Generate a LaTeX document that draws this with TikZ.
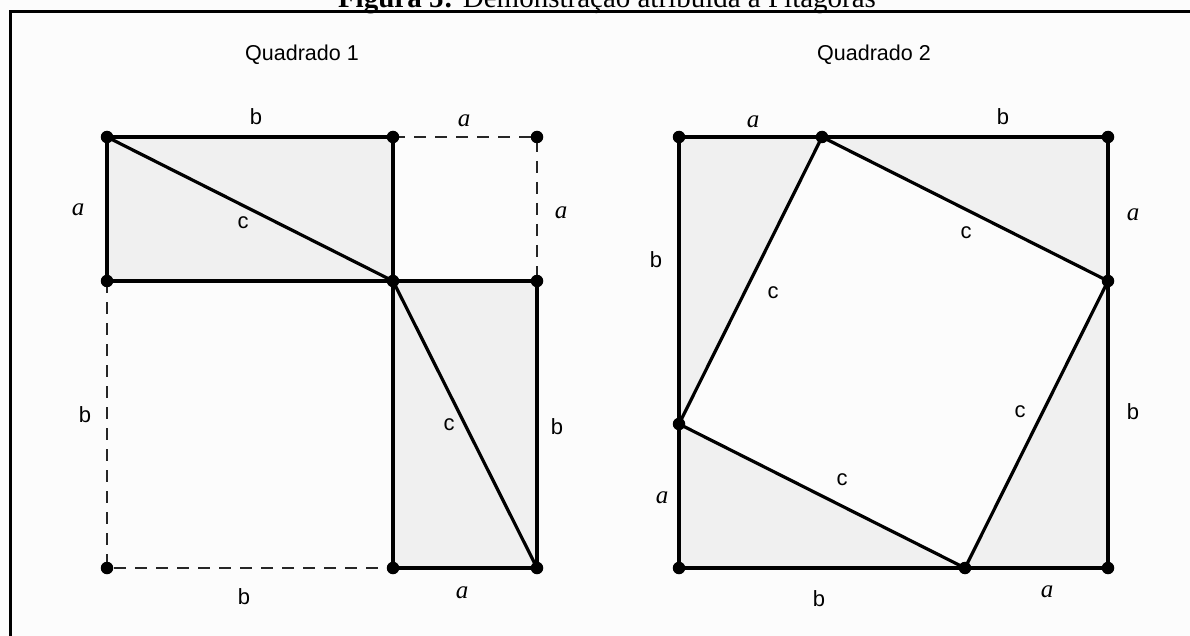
\documentclass[tikz,border=0pt]{standalone}
\usepackage{fontspec}
\setmainfont{Liberation Serif}
\newfontfamily\arialf{Liberation Sans}
\begin{document}
\begin{tikzpicture}[x=1pt,y=-1pt,
  dotn/.style={circle,fill=black,inner sep=0pt,minimum size=12.5pt},
  edge/.style={line width=3.2pt,line cap=round,line join=round},
  dashedge/.style={line width=1.8pt,dash pattern=on 12pt off 9pt,draw=black!85},
  shadefill/.style={fill=black!6},
  lbl/.style={font=\arialf\fontsize{22}{22}\selectfont,inner sep=0pt},
  lbla/.style={font=\itshape\fontsize{25}{25}\selectfont,inner sep=0pt},
  qlbl/.style={font=\arialf\fontsize{21.5}{21.5}\selectfont,inner sep=0pt},
  titlef/.style={font=\fontsize{29}{29}\selectfont,inner sep=0pt,anchor=base}]
\useasboundingbox (0,0) rectangle (1190,636);
\fill[white!99!black] (0,0) rectangle (1190,636);
% title and frame
\node[titlef] (title) at (607,8) {\textbf{Figura 5:} Demonstração atribuída a Pitágoras};
\coordinate (fb) at (10.5,645);
\coordinate (fc) at (10.5,11.5);
\coordinate (fr) at (1200,11.5);
\draw[line width=3.5pt] (fb) -- (fc) -- (fr);
% ---------- Quadrado 1 ----------
\coordinate (A1) at (107,137); \coordinate (A2) at (393,137); \coordinate (A3) at (537,137);
\coordinate (B1) at (107,281); \coordinate (B2) at (393,281); \coordinate (B3) at (537,281);
\coordinate (C1) at (107,568); \coordinate (C2) at (393,568); \coordinate (C3) at (537,568);
\fill[shadefill] (A1) rectangle (B2);
\fill[shadefill] (B2) rectangle (C3);
\draw[dashedge] (A2) -- (A3) -- (B3);
\draw[dashedge] (B1) -- (C1) -- (C2);
\draw[edge] (A1) -- (A2) -- (B2) -- (B1) -- cycle;
\draw[edge] (A1) -- (B2);
\draw[edge] (B2) -- (B3) -- (C3) -- (C2) -- cycle;
\draw[edge] (B2) -- (C3);
\foreach \p in {A1,A2,A3,B1,B2,B3,C1,C2,C3} \node[dotn] (d\p) at (\p) {};
\node[qlbl] (q1) at (302,55) {Quadrado 1};
\node[lbl] (l1) at (256,117) {b};
\node[lbla] (l2) at (464,121) {a};
\node[lbla] (l3) at (78,210) {a};
\node[lbl] (l4) at (243,223) {c};
\node[lbla] (l5) at (561,213) {a};
\node[lbl] (l6) at (85,415) {b};
\node[lbl] (l7) at (449,425) {c};
\node[lbl] (l8) at (557,427) {b};
\node[lbl] (l9) at (244,597) {b};
\node[lbla] (l10) at (462,593) {a};
% ---------- Quadrado 2 ----------
\coordinate (P1) at (679,137); \coordinate (P2) at (822,137); \coordinate (P3) at (1108,137);
\coordinate (Q) at (1108,281);
\coordinate (R3) at (1108,568); \coordinate (R2) at (965,568); \coordinate (R1) at (679,568);
\coordinate (L) at (679,424);
\fill[shadefill] (P1) -- (P2) -- (L) -- cycle;
\fill[shadefill] (P2) -- (P3) -- (Q) -- cycle;
\fill[shadefill] (Q) -- (R3) -- (R2) -- cycle;
\fill[shadefill] (R2) -- (R1) -- (L) -- cycle;
\draw[edge] (P1) -- (P3) -- (R3) -- (R1) -- cycle;
\draw[edge] (P2) -- (Q) -- (R2) -- (L) -- cycle;
\foreach \p in {P1,P2,P3,Q,R3,R2,R1,L} \node[dotn] (d\p) at (\p) {};
\node[qlbl] (q2) at (874,55) {Quadrado 2};
\node[lbla] (m1) at (753,122) {a};
\node[lbl] (m2) at (1003,117) {b};
\node[lbla] (m3) at (1133,215) {a};
\node[lbl] (m4) at (966,233) {c};
\node[lbl] (m5) at (656,260) {b};
\node[lbl] (m6) at (773,293) {c};
\node[lbl] (m7) at (1020,412) {c};
\node[lbl] (m8) at (1133,412) {b};
\node[lbl] (m9) at (842,480) {c};
\node[lbla] (m10) at (662,498) {a};
\node[lbl] (m11) at (819,599) {b};
\node[lbla] (m12) at (1047,592) {a};
\end{tikzpicture}
\end{document}
